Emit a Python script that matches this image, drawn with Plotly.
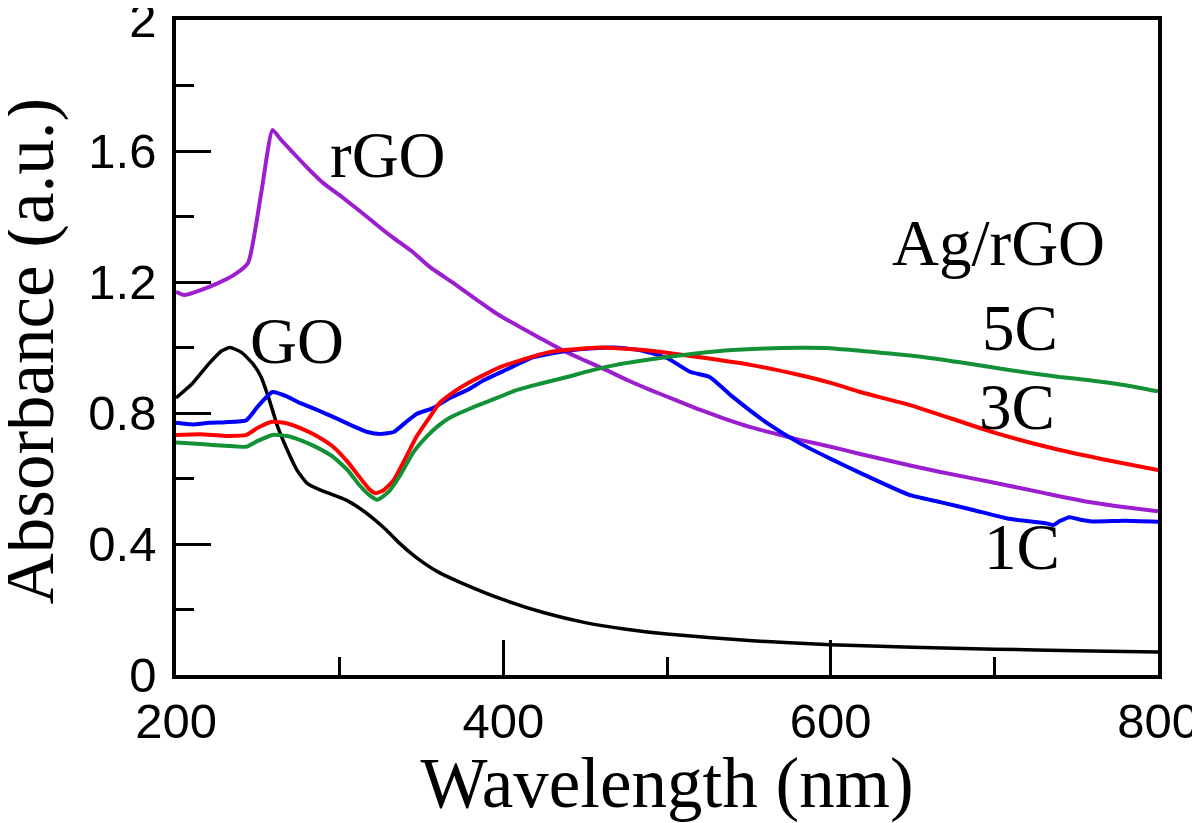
import plotly.graph_objects as go

# ---------------- data ----------------
go_x = [200, 210, 220, 228, 233, 240, 247, 252, 257, 262, 268, 274, 280, 288, 296, 304, 312, 320,
        328, 336, 344, 352, 360, 375, 400, 425, 450, 475, 500, 550, 600, 650, 700, 750, 800]
go_y = [0.846, 0.89, 0.95, 0.99, 1.0, 0.985, 0.95, 0.91, 0.84, 0.76, 0.687, 0.625, 0.586, 0.565,
        0.55, 0.534, 0.51, 0.48, 0.445, 0.405, 0.37, 0.34, 0.315, 0.28, 0.23, 0.19, 0.16, 0.14,
        0.125, 0.105, 0.092, 0.085, 0.079, 0.074, 0.07]

rgo_x = [200, 205, 215, 225, 235, 244, 252, 259, 264, 270, 280, 290, 300, 314, 325, 333, 345, 355,
         370, 384, 397, 410, 423, 436, 450, 463, 476, 490, 505, 520, 535, 551, 566, 581, 600, 618,
         650, 667, 700, 730, 758, 780, 800]
rgo_y = [1.17, 1.16, 1.175, 1.195, 1.22, 1.258, 1.47, 1.664, 1.635, 1.603, 1.55, 1.502, 1.465,
         1.41, 1.365, 1.334, 1.29, 1.246, 1.195, 1.145, 1.10, 1.063, 1.027, 0.992, 0.96, 0.931,
         0.90, 0.87, 0.84, 0.81, 0.783, 0.757, 0.737, 0.718, 0.697, 0.675, 0.638, 0.62, 0.587,
         0.556, 0.528, 0.512, 0.50]

c1_x = [200, 210, 220, 230, 243, 250, 259, 268, 276, 286, 296, 306, 317, 325, 333, 340, 347, 357,
        367, 378, 388, 403, 418, 439, 455, 469, 485, 500, 514, 526, 540, 561, 581, 600, 618, 648,
        667, 687, 708, 732, 736, 740, 746, 752, 760, 780, 800]
c1_y = [0.77, 0.765, 0.77, 0.772, 0.778, 0.82, 0.864, 0.85, 0.83, 0.81, 0.788, 0.765, 0.742, 0.736,
        0.742, 0.77, 0.797, 0.815, 0.845, 0.87, 0.90, 0.935, 0.97, 0.99, 0.998, 1.0, 0.99, 0.968,
        0.926, 0.91, 0.85, 0.77, 0.708, 0.66, 0.617, 0.55, 0.528, 0.504, 0.478, 0.463, 0.458,
        0.47, 0.482, 0.475, 0.469, 0.471, 0.468]

c3_x = [200, 215, 230, 243, 250, 259, 268, 276, 286, 296, 305, 312, 318, 322, 327, 333, 340, 347,
        354, 361, 370, 378, 398, 428, 459, 490, 520, 551, 581, 600, 618, 650, 700, 740, 770, 800]
c3_y = [0.733, 0.735, 0.73, 0.733, 0.755, 0.773, 0.768, 0.754, 0.73, 0.697, 0.65, 0.605, 0.568,
        0.555, 0.565, 0.595, 0.66, 0.728, 0.78, 0.83, 0.865, 0.89, 0.94, 0.986, 1.0, 0.99, 0.97,
        0.947, 0.916, 0.892, 0.864, 0.822, 0.74, 0.687, 0.655, 0.626]

c5_x = [200, 215, 230, 243, 250, 259, 268, 276, 286, 296, 305, 312, 318, 323, 330, 337, 345, 353,
        360, 367, 378, 393, 408, 423, 439, 454, 469, 485, 500, 520, 540, 560, 581, 600, 618, 650,
        679, 708, 740, 758, 780, 800]
c5_y = [0.71, 0.705, 0.70, 0.697, 0.715, 0.733, 0.73, 0.717, 0.695, 0.666, 0.625, 0.58, 0.55,
        0.535, 0.56, 0.61, 0.68, 0.727, 0.76, 0.785, 0.81, 0.84, 0.87, 0.89, 0.91, 0.93, 0.947,
        0.96, 0.971, 0.983, 0.992, 0.997, 0.999, 0.998, 0.99, 0.975, 0.955, 0.932, 0.91, 0.90,
        0.885, 0.866]

x_tickvals = [200, 400, 600, 800]
x_ticktext = ["200", "400", "600", "800"]
x_minor = [300, 500, 700]
y_tickvals = [0, 0.4, 0.8, 1.2, 1.6, 2.0]
y_ticktext = ["0", "0.4", "0.8", "1.2", "1.6", "2"]
y_minor = [0.2, 0.6, 1.0, 1.4, 1.8]

series = [
    ("GO", go_x, go_y, "#000000", 3.5),
    ("rGO", rgo_x, rgo_y, "#9b1fcf", 4),
    ("1C", c1_x, c1_y, "#0000ff", 4),
    ("3C", c3_x, c3_y, "#ff0000", 4),
    ("5C", c5_x, c5_y, "#139137", 4),
]

labels = [
    ("rGO", 329.5, 1.588),
    ("GO", 273.9, 1.02),
    ("Ag/rGO", 702.7, 1.319),
    ("5C", 715.6, 1.06),
    ("3C", 713.7, 0.818),
    ("1C", 716.8, 0.391),
]

SERIF = "Liberation Serif, Times New Roman, serif"
SANS = "Liberation Sans, Arial, sans-serif"

fig = go.Figure()
for name, xs, ys, col, w in series:
    fig.add_trace(go.Scatter(x=xs, y=ys, mode="lines", name=name,
                             line=dict(color=col, width=w, shape="spline", smoothing=0.5),
                             showlegend=False, hoverinfo="skip"))

for text, lx, ly in labels:
    fig.add_annotation(x=lx, y=ly, xref="x", yref="y", text=text, showarrow=False,
                       xanchor="center", yanchor="middle",
                       font=dict(family=SERIF, size=65, color="black"))

# y-axis title as a rotated annotation (it sits partly past the page edge in the reference)
fig.add_annotation(x=0, y=0.5, xref="paper", yref="paper", text="Absorbance (a.u.)",
                   textangle=-90, showarrow=False, xanchor="center", yanchor="middle",
                   xshift=-147, yshift=-4,
                   font=dict(family=SERIF, size=71, color="black"))

axis_common = dict(showgrid=False, zeroline=False, showline=True, linecolor="black",
                   linewidth=3.5, mirror=True, ticks="inside", ticklen=35, tickwidth=3,
                   tickcolor="black", tickfont=dict(family=SANS, size=49, color="black"),
                   ticklabeloverflow="allow")

fig.update_xaxes(range=[200, 800], tickmode="array", tickvals=x_tickvals, ticktext=x_ticktext,
                 minor=dict(tickmode="array", tickvals=x_minor, ticks="inside", ticklen=18,
                            tickwidth=3, tickcolor="black"),
                 ticklabelstandoff=0,
                 title=dict(text="Wavelength (nm)", font=dict(family=SERIF, size=71, color="black"),
                            standoff=29),
                 **axis_common)
fig.update_yaxes(range=[0, 2], tickmode="array", tickvals=y_tickvals, ticktext=y_ticktext,
                 minor=dict(tickmode="array", tickvals=y_minor, ticks="inside", ticklen=18,
                            tickwidth=3, tickcolor="black"),
                 ticklabelstandoff=6,
                 **axis_common)

# page body has an 8px margin: figure is 1192x815 so the plot area lands at x 176-1158, y 20-675
fig.update_layout(width=1192, height=815, plot_bgcolor="white", paper_bgcolor="white",
                  margin=dict(l=168, r=42, t=12, b=148, autoexpand=False))

fig.write_html("out.html")
